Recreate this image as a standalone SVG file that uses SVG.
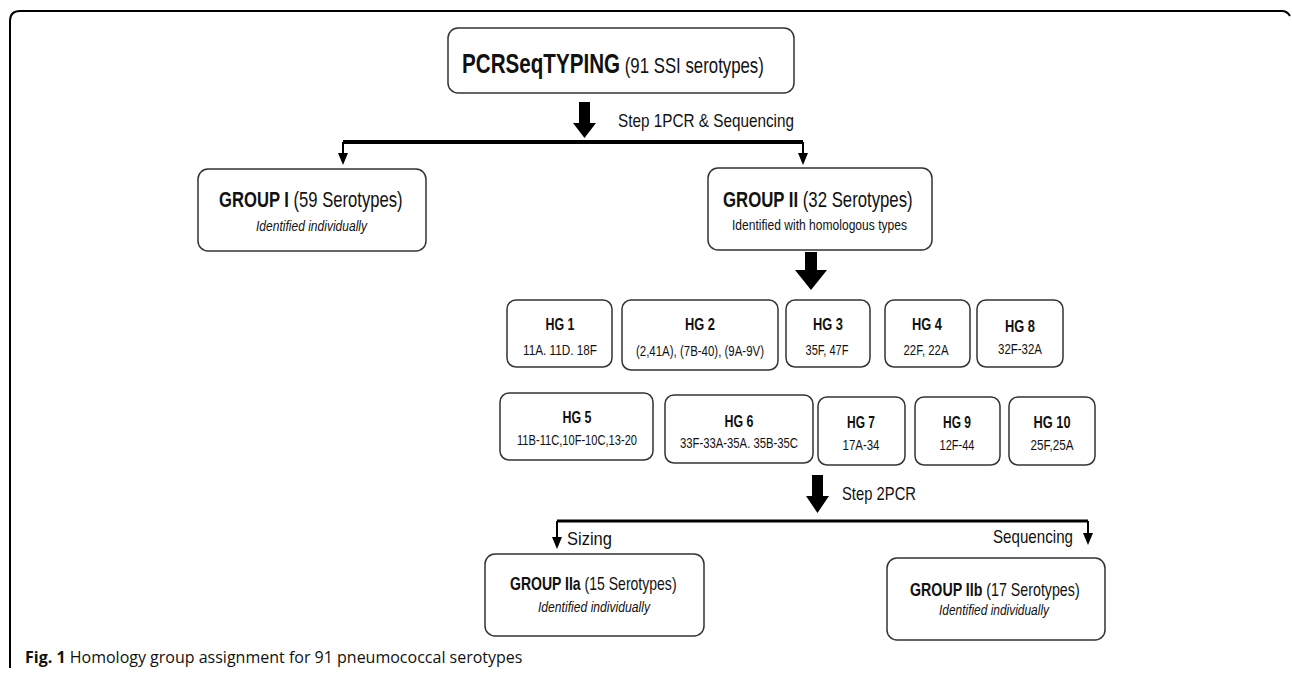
<svg xmlns="http://www.w3.org/2000/svg" width="1292" height="676" viewBox="0 0 1292 676">
<defs>
<style>
.box{fill:#fff;stroke:#333;stroke-width:1.5}
.t{font-family:"Liberation Sans Narrow","Liberation Sans",Arial,sans-serif;fill:#111}
.s{font-family:"Liberation Sans",Arial,sans-serif;fill:#111}
.b{font-weight:bold}
.i{font-style:italic}
.ln{fill:none;stroke:#000}
.ah{fill:#000}
.cap{font-family:"Open Sans","Noto Sans",sans-serif;fill:#111;font-size:16px}
</style>
</defs>
<rect width="1292" height="676" fill="#fff"/>
<path class="ln" stroke-width="2" d="M10,668 L10,21 Q10,11 20,11 L1282,11 Q1287,11 1290,16"/>

<g id="connectors">
  <polygon class="ah" points="579,102 590,102 590,123 596,123 584.5,138 573,123 579,123"/>
  <path class="ln" stroke-width="4" d="M343,142 L803,142"/>
  <path class="ln" stroke-width="2" d="M343,142 L343,154 M803,142 L803,154"/>
  <polygon class="ah" points="338,153 348,153 343,165"/>
  <polygon class="ah" points="798,153 808,153 803,165"/>
  <polygon class="ah" points="805,252 817,252 817,270 827,270 811,290 795,270 805,270"/>
  <polygon class="ah" points="812,475 823,475 823,496 829,496 817.5,513 806,496 812,496"/>
  <path class="ln" stroke-width="3" d="M557,521 L1088,521"/>
  <path class="ln" stroke-width="2" d="M557,521 L557,538 M1088,521 L1088,534"/>
  <polygon class="ah" points="552,537 562,537 557,549"/>
  <polygon class="ah" points="1083,533 1093,533 1088,545"/>
  <text class="t" x="618" y="127" font-size="19" textLength="176" lengthAdjust="spacingAndGlyphs">Step 1PCR &amp; Sequencing</text>
  <text class="t" x="842" y="500" font-size="19" textLength="74" lengthAdjust="spacingAndGlyphs">Step 2PCR</text>
  <text class="t" x="567" y="545" font-size="19" textLength="45" lengthAdjust="spacingAndGlyphs">Sizing</text>
  <text class="t" x="993" y="543" font-size="19" textLength="80" lengthAdjust="spacingAndGlyphs">Sequencing</text>
</g>

<g id="top">
  <rect class="box" x="448" y="28" width="346" height="65" rx="10"/>
  <text class="s" transform="translate(462,73) scale(0.764,1)" font-size="22"><tspan class="b" font-size="27">PCRSeqTYPING</tspan> (91 SSI serotypes)</text>
</g>

<g id="group1">
  <rect class="box" x="198" y="169" width="228" height="82" rx="10"/>
  <text class="s" transform="translate(219,207) scale(0.756,1)" font-size="22"><tspan class="b">GROUP I</tspan> (59 Serotypes)</text>
  <text class="t i" x="256" y="231" font-size="15" textLength="111" lengthAdjust="spacingAndGlyphs">Identified individually</text>
</g>

<g id="group2">
  <rect class="box" x="708" y="168" width="224" height="82" rx="10"/>
  <text class="s" transform="translate(723,207) scale(0.762,1)" font-size="22"><tspan class="b">GROUP II</tspan> (32 Serotypes)</text>
  <text class="t" x="732" y="230" font-size="15" textLength="175" lengthAdjust="spacingAndGlyphs">Identified with homologous types</text>
</g>

<g id="hg1">
  <rect class="box" x="507" y="300" width="105" height="67" rx="9"/>
  <text class="t b" x="560" y="330" font-size="17" text-anchor="middle" textLength="29" lengthAdjust="spacingAndGlyphs">HG 1</text>
  <text class="t" x="560" y="355" font-size="14" text-anchor="middle" textLength="74" lengthAdjust="spacingAndGlyphs">11A. 11D. 18F</text>
</g>
<g id="hg2">
  <rect class="box" x="622" y="300" width="156" height="70" rx="9"/>
  <text class="t b" x="700" y="330" font-size="17" text-anchor="middle" textLength="30" lengthAdjust="spacingAndGlyphs">HG 2</text>
  <text class="t" x="700" y="356" font-size="14" text-anchor="middle" textLength="128" lengthAdjust="spacingAndGlyphs">(2,41A), (7B-40), (9A-9V)</text>
</g>
<g id="hg3">
  <rect class="box" x="786" y="300" width="84" height="67" rx="9"/>
  <text class="t b" x="828" y="330" font-size="17" text-anchor="middle" textLength="30" lengthAdjust="spacingAndGlyphs">HG 3</text>
  <text class="t" x="827" y="355" font-size="14" text-anchor="middle" textLength="43" lengthAdjust="spacingAndGlyphs">35F, 47F</text>
</g>
<g id="hg4">
  <rect class="box" x="885" y="300" width="85" height="67" rx="9"/>
  <text class="t b" x="927" y="330" font-size="17" text-anchor="middle" textLength="30" lengthAdjust="spacingAndGlyphs">HG 4</text>
  <text class="t" x="926" y="355" font-size="14" text-anchor="middle" textLength="45" lengthAdjust="spacingAndGlyphs">22F, 22A</text>
</g>
<g id="hg8">
  <rect class="box" x="977" y="300" width="86" height="67" rx="9"/>
  <text class="t b" x="1020" y="332" font-size="17" text-anchor="middle" textLength="30" lengthAdjust="spacingAndGlyphs">HG 8</text>
  <text class="t" x="1020" y="354" font-size="14" text-anchor="middle" textLength="44" lengthAdjust="spacingAndGlyphs">32F-32A</text>
</g>

<g id="hg5">
  <rect class="box" x="500" y="393" width="153" height="67" rx="9"/>
  <text class="t b" x="577" y="423" font-size="17" text-anchor="middle" textLength="29" lengthAdjust="spacingAndGlyphs">HG 5</text>
  <text class="t" x="577" y="445" font-size="14" text-anchor="middle" textLength="120" lengthAdjust="spacingAndGlyphs">11B-11C,10F-10C,13-20</text>
</g>
<g id="hg6">
  <rect class="box" x="665" y="395" width="148" height="68" rx="9"/>
  <text class="t b" x="739" y="427" font-size="17" text-anchor="middle" textLength="29" lengthAdjust="spacingAndGlyphs">HG 6</text>
  <text class="t" x="739" y="448" font-size="14" text-anchor="middle" textLength="118" lengthAdjust="spacingAndGlyphs">33F-33A-35A. 35B-35C</text>
</g>
<g id="hg7">
  <rect class="box" x="818" y="397" width="87" height="68" rx="9"/>
  <text class="t b" x="861" y="428" font-size="17" text-anchor="middle" textLength="28" lengthAdjust="spacingAndGlyphs">HG 7</text>
  <text class="t" x="861" y="450" font-size="14" text-anchor="middle" textLength="37" lengthAdjust="spacingAndGlyphs">17A-34</text>
</g>
<g id="hg9">
  <rect class="box" x="915" y="397" width="85" height="68" rx="9"/>
  <text class="t b" x="957" y="428" font-size="17" text-anchor="middle" textLength="28" lengthAdjust="spacingAndGlyphs">HG 9</text>
  <text class="t" x="957" y="450" font-size="14" text-anchor="middle" textLength="35" lengthAdjust="spacingAndGlyphs">12F-44</text>
</g>
<g id="hg10">
  <rect class="box" x="1009" y="397" width="86" height="68" rx="9"/>
  <text class="t b" x="1052" y="428" font-size="17" text-anchor="middle" textLength="37" lengthAdjust="spacingAndGlyphs">HG 10</text>
  <text class="t" x="1052" y="450" font-size="14" text-anchor="middle" textLength="43" lengthAdjust="spacingAndGlyphs">25F,25A</text>
</g>

<g id="group2a">
  <rect class="box" x="485" y="554" width="219" height="82" rx="10"/>
  <text class="s" transform="translate(510,590) scale(0.78,1)" font-size="18"><tspan class="b">GROUP IIa</tspan> (15 Serotypes)</text>
  <text class="t i" x="538" y="612" font-size="14" textLength="112" lengthAdjust="spacingAndGlyphs">Identified individually</text>
</g>
<g id="group2b">
  <rect class="box" x="887" y="558" width="218" height="82" rx="10"/>
  <text class="s" transform="translate(910,596) scale(0.79,1)" font-size="18"><tspan class="b">GROUP IIb</tspan> (17 Serotypes)</text>
  <text class="t i" x="939" y="615" font-size="14" textLength="110" lengthAdjust="spacingAndGlyphs">Identified individually</text>
</g>

<text class="cap" x="25" y="663"><tspan font-weight="bold">Fig. 1</tspan> Homology group assignment for 91 pneumococcal serotypes</text>
</svg>
